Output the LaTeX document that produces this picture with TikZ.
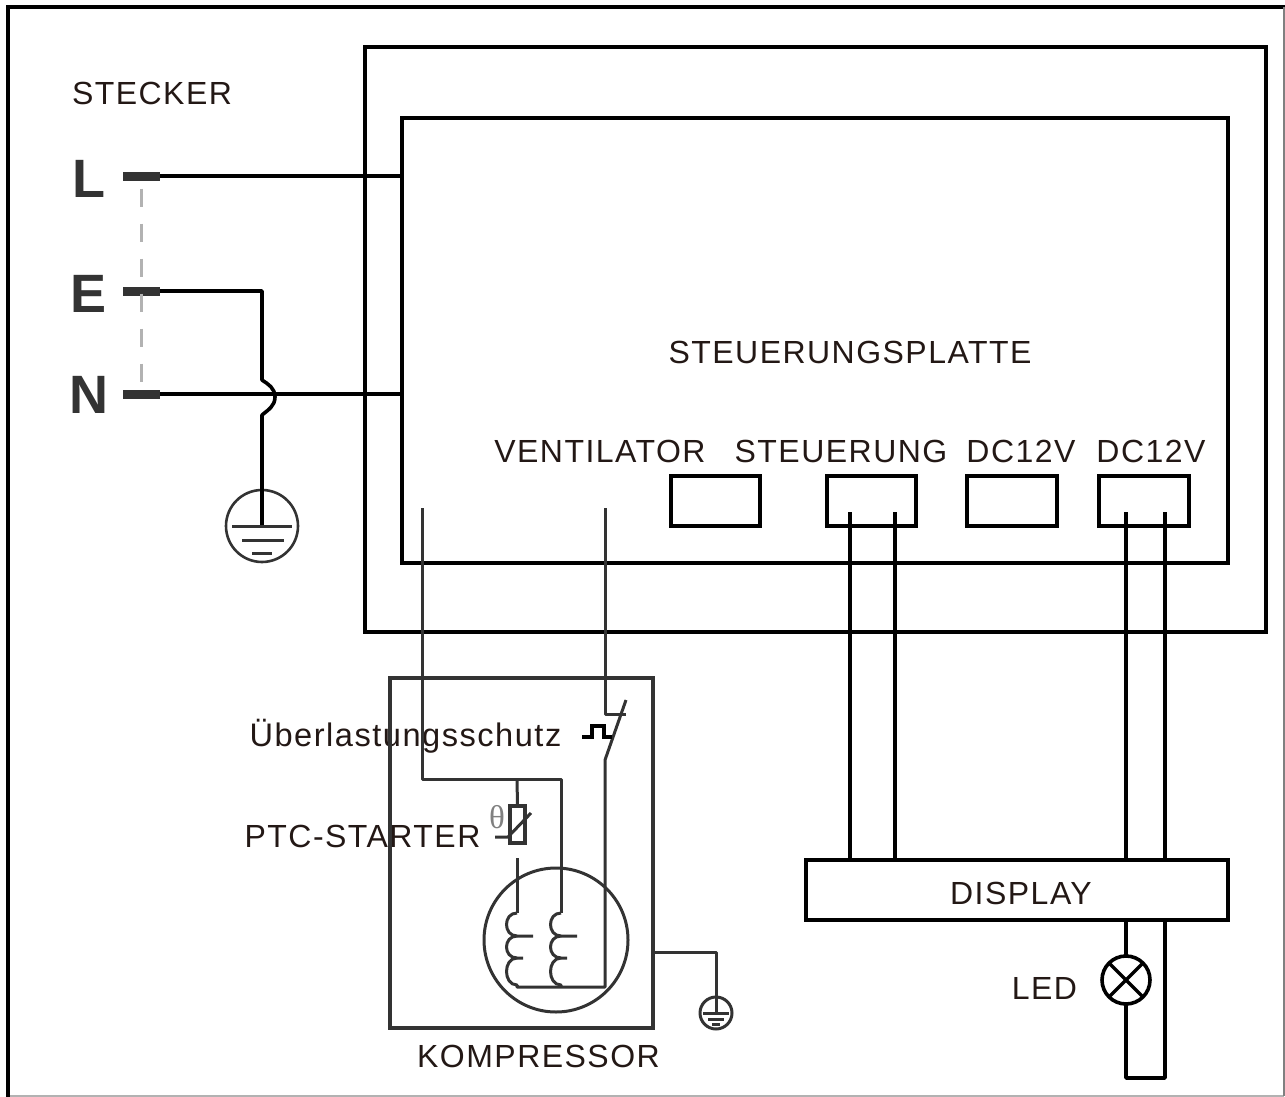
\documentclass[tikz,border=0pt]{standalone}
\usepackage{fontspec}
\setmainfont[LetterSpace=4.6]{Liberation Sans}
\newfontfamily\klemmenfont{Liberation Sans}
\newfontfamily\thetafont{Liberation Serif}
\definecolor{textdark}{HTML}{231815}
\definecolor{wiredark}{HTML}{333333}
\tikzset{
	wire/.style={line width=3.6pt,black,line join=round},
	thinwire/.style={line width=3pt,wiredark,line join=round},
	thickbox/.style={draw=black,line width=4.4pt,fill=none,inner sep=0pt,outer sep=0pt},
	thinbox/.style={draw=wiredark,line width=3.2pt,fill=none,inner sep=0pt,outer sep=0pt},
	label/.style={font=\fontsize{32}{36}\selectfont,text=textdark,inner sep=0pt},
	klemme/.style={font=\klemmenfont\bfseries\fontsize{54}{54}\selectfont,text=wiredark,inner sep=0pt},
	stift/.style={fill=wiredark,minimum width=37pt,minimum height=9pt,inner sep=0pt,outer sep=0pt},
	ring/.style={circle,draw,inner sep=0pt,outer sep=0pt}
}
\begin{document}
\begin{tikzpicture}[x=1pt,y=-1pt]
  \useasboundingbox (0,0) rectangle (1285,1097);

  % rahmen
  \draw[line width=4pt,black] (8,1097) -- (8,7) -- (1285,7);
  \draw[line width=1.5pt,gray!60] (10,1096) -- (1284,1096);
  \draw[line width=1.5pt,gray] (1284,1096) -- (1284,7);

  % steuerung
  \node[thickbox,minimum width=901pt,minimum height=585pt] (gehaeuse) at (815.5,339.5) {};
  \node[thickbox,minimum width=826pt,minimum height=445pt] (platte) at (815,340.5) {};
  \node[thickbox,minimum width=89pt,minimum height=50pt] (dosea) at (715.5,501) {};
  \node[thickbox,minimum width=89pt,minimum height=50pt] (doseb) at (871.5,501) {};
  \node[thickbox,minimum width=90pt,minimum height=50pt] (dosec) at (1012,501) {};
  \node[thickbox,minimum width=90pt,minimum height=50pt] (dosed) at (1144,501) {};
  \node[thickbox,minimum width=422pt,minimum height=60pt] (display) at (1017,890) {};

  \node[label] (ttitel) at (850,352) {STEUERUNGSPLATTE};
  \node[label] (tvent) at (600,451) {VENTILATOR};
  \node[label] (tsteu) at (841,451) {STEUERUNG};
  \node[label] (tdca) at (1021,451) {DC12V};
  \node[label] (tdcb) at (1151,451) {DC12V};
  \node[label] (tdisp) at (1021,893) {DISPLAY};
  \node[label] (tled) at (1044.5,988) {LED};
  \node[label] (tkomp) at (538.5,1056) {KOMPRESSOR};
  \node[label,font=\fontsize{32.6}{36}\selectfont] (tschutz) at (405.5,736) {Überlastungsschutz};
  \node[label] (tptc) at (362.5,836) {PTC-STARTER};
  \node[label] (tstecker) at (152,93) {STECKER};

  % stecker
  \node[klemme] (kl) at (89,179) {L};
  \node[klemme] (ke) at (89,294) {E};
  \node[klemme] (kn) at (89,395) {N};
  \node[stift] (sl) at (141.5,176) {};
  \node[stift] (se) at (141.5,291) {};
  \node[stift] (sn) at (141.5,394) {};
  \draw[line width=2.4pt,gray!60,dash pattern=on 18pt off 17pt] (sl.south) ++(0,8) -- (sn.north);
  \draw[wire] (sl.east) -- (sl.east -| platte.west);
  \draw[wire] (sn.east) -- (sn.east -| platte.west);

  \node[ring,line width=2.6pt,draw=wiredark,minimum size=72pt] (erdea) at (262,526) {};
  \draw[wire] (se.east) -- (262,291) -- (262,380)
    .. controls (268,384) and (275,388) .. (275,397)
    .. controls (275,406) and (268,410) .. (262,415) -- (erdea.center);
  \draw[thinwire] (232,526) -- (292,526);
  \draw[line width=3pt,wiredark] (242,540) -- (284,540);
  \draw[thinwire] (252,553) -- (272,553);

  % kabel zum display
  \foreach \x in {850,895} \draw[wire] (\x,512) -- (\x,0 |- display.north);
  \foreach \x in {1126,1165} \draw[wire] (\x,512) -- (\x,0 |- display.north);

  \node[ring,line width=3.6pt,draw=black,minimum size=48pt] (lampe) at (1126,980) {};
  \draw[line width=3.4pt] (lampe.north west) -- (lampe.south east);
  \draw[line width=3.4pt] (lampe.north east) -- (lampe.south west);
  \draw[wire] (lampe.north) -- (lampe.north |- display.south);
  \draw[wire] (lampe.south) -- (1126,1078) -- (1165,1078) -- (1165,920);

  % kompressor
  \node[thinbox,minimum width=263pt,minimum height=350pt] (kompressor) at (521.5,853) {};
  \node[ring,thinwire,minimum size=144pt] (motor) at (556,940) {};
  \node[thinbox,minimum width=15pt,minimum height=37pt] (ptc) at (517.5,824.5) {};
  \node[font=\thetafont\fontsize{33}{33}\selectfont,text=gray,inner sep=0pt] (ttheta) at (497,817) {θ};
  \draw[thinwire] (495,837) -- (508,837) -- (531,813);

  \draw[thinwire] (422,508) -- (422,779) -- (561,779) -- (561,913);
  \draw[thinwire] (517,779) -- (ptc.north);
  \draw[thinwire] (517,858) -- (517,913);
  \draw[thinwire] (605,508) -- (605,714) -- (626,714);
  \draw[thinwire] (626,700) -- (605,760) -- (605,987) -- (517,987) -- (517,985);

  % wicklungen
  \foreach \x in {517,561} {
    \draw[thinwire] (\x,913) .. controls (\x-14,913) and (\x-14,936) .. (\x,936) -- (\x+16,936);
    \draw[thinwire] (\x,936) .. controls (\x-14,936) and (\x-14,958) .. (\x,958) -- (\x+6,958);
    \draw[thinwire] (\x,958) .. controls (\x-14,958) and (\x-14,985) .. (\x,985) -- (\x,987);
  }

  % schutzschalter
  \draw[line width=4pt,black] (582,737) -- (592,737) -- (592,726) -- (604,726) -- (604,737) -- (612,737);

  % erde kompressor
  \node[ring,thinwire,minimum size=32pt] (erdeb) at (716,1013) {};
  \draw[thinwire] (kompressor.east |- 0,952) -- (716,952) -- (erdeb.center);
  \draw[thinwire] (703,1013) -- (729,1013);
  \draw[thinwire] (708,1019) -- (724,1019);
  \draw[thinwire] (712,1024) -- (720,1024);
\end{tikzpicture}
\end{document}
